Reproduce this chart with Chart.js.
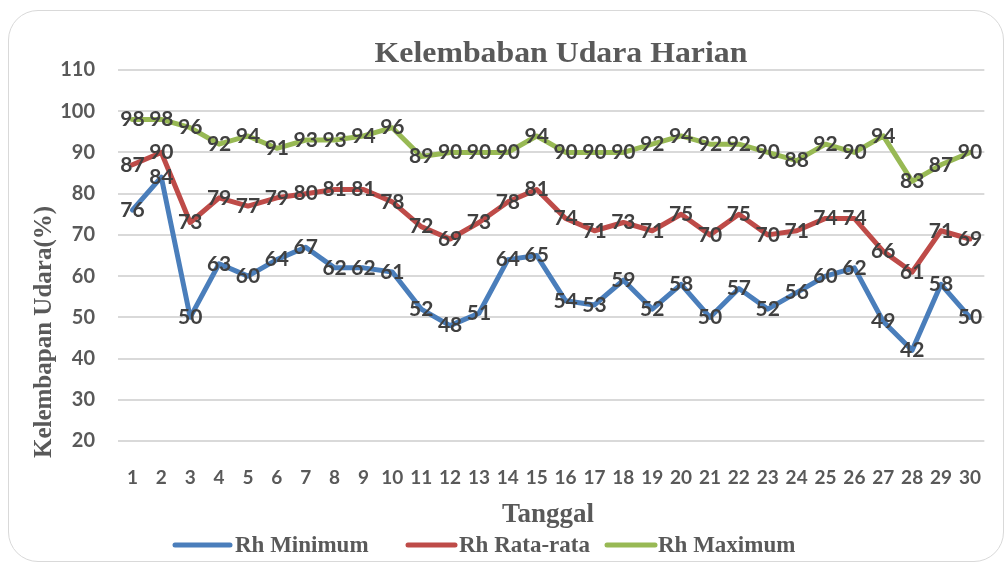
<!DOCTYPE html>
<html>
<head>
<meta charset="utf-8">
<script src="https://cdn.jsdelivr.net/npm/chart.js@4"></script>
<style>
  html, body { margin: 0; padding: 0; background: #fff; }
  #wrap { position: relative; width: 1006px; height: 566px; }
  #frame { position: absolute; left: 8px; top: 10px; width: 996px; height: 552px;
           border: 1.5px solid #d9d9d9; border-radius: 30px; box-sizing: border-box; }
  #chart { position: absolute; left: 0; top: 0; }
</style>
</head>
<body>
<div id="wrap">
  <div id="frame"></div>
  <canvas id="chart" width="1006" height="566"></canvas>
</div>
<script>
let days = [];
for (let d = 1; d <= 30; d++) days.push(String(d));

let rhMin = [76, 84, 50, 63, 60, 64, 67, 62, 62, 61, 52, 48, 51, 64, 65, 54, 53, 59, 52, 58, 50, 57, 52, 56, 60, 62, 49, 42, 58, 50];
let rhAvg = [87, 90, 73, 79, 77, 79, 80, 81, 81, 78, 72, 69, 73, 78, 81, 74, 71, 73, 71, 75, 70, 75, 70, 71, 74, 74, 66, 61, 71, 69];
let rhMax = [98, 98, 96, 92, 94, 91, 93, 93, 94, 96, 89, 90, 90, 90, 94, 90, 90, 90, 92, 94, 92, 92, 90, 88, 92, 90, 94, 83, 87, 90];

let seriesNames = ['Rh Minimum', 'Rh Rata-rata', 'Rh Maximum'];
let seriesColors = ['#4a7ebb', '#be4b48', '#98b954'];

const textGrey = '#595959';
const serif = '"Liberation Serif", "Times New Roman", serif';
const sans = 'Lato, "Open Sans", sans-serif';

// value labels on each point, titles and legend
const decorPlugin = {
    id: 'decor',
    afterDatasetsDraw(chart) {
        let ctx = chart.ctx;
        ctx.save();
        ctx.font = 'bold 21px ' + sans;
        ctx.fillStyle = '#404040';
        ctx.textAlign = 'center';
        ctx.textBaseline = 'middle';
        chart.data.datasets.forEach((ds, i) => {
            let meta = chart.getDatasetMeta(i);
            meta.data.forEach((pt, j) => {
                ctx.fillText(String(ds.data[j]), pt.x, pt.y);
            });
        });
        ctx.restore();
    },
    afterDraw(chart) {
        let ctx = chart.ctx;
        ctx.save();
        ctx.fillStyle = textGrey;
        ctx.textAlign = 'center';
        ctx.textBaseline = 'middle';

        ctx.save();
        ctx.translate(561, 54);
        ctx.scale(1.06, 1);
        ctx.font = 'bold 30px ' + serif;
        ctx.fillText('Kelembaban Udara Harian', 0, 0);
        ctx.restore();

        ctx.font = 'bold 27px ' + serif;
        ctx.fillText('Tanggal', 548, 515);

        ctx.save();
        ctx.translate(45, 332);
        ctx.rotate(-Math.PI / 2);
        ctx.font = 'bold 25px ' + serif;
        ctx.fillText('Kelembapan Udara(%)', 0, 0);
        ctx.restore();

        // legend
        let lineSpans = [[175, 230], [408, 455], [607, 655]];
        let textStarts = [235, 459, 658];
        ctx.font = 'bold 23px ' + serif;
        ctx.textAlign = 'left';
        ctx.lineCap = 'round';
        chart.data.datasets.forEach((ds, i) => {
            ctx.strokeStyle = ds.borderColor;
            ctx.lineWidth = 5;
            ctx.beginPath();
            ctx.moveTo(lineSpans[i][0], 545);
            ctx.lineTo(lineSpans[i][1], 545);
            ctx.stroke();
            ctx.fillStyle = textGrey;
            ctx.fillText(ds.label, textStarts[i], 546);
        });
        ctx.restore();
    }
};

let datasets = [rhMin, rhAvg, rhMax].map((vals, i) => ({
    label: seriesNames[i],
    data: vals,
    borderColor: seriesColors[i],
    backgroundColor: seriesColors[i],
    borderWidth: 5,
    pointRadius: 0,
    tension: 0,
    borderJoinStyle: 'round',
    borderCapStyle: 'round'
}));

let ctx = document.getElementById('chart').getContext('2d');
window.rhChart = new Chart(ctx, {
    type: 'line',
    data: { labels: days, datasets: datasets },
    options: {
        responsive: false,
        animation: false,
        layout: { padding: { top: 70, right: 5, left: 0, bottom: 0 } },
        plugins: {
            legend: { display: false },
            title: { display: false },
            tooltip: { enabled: false }
        },
        scales: {
            x: {
                offset: true,
                grid: { display: false, drawTicks: false },
                border: { display: false },
                ticks: {
                    color: textGrey,
                    font: { family: sans, weight: 'bold', size: 19 },
                    padding: 25,
                    maxRotation: 0,
                    autoSkip: false
                },
                afterFit(scale) { scale.height = 125; }
            },
            y: {
                min: 20,
                max: 110,
                grid: { color: '#d9d9d9', lineWidth: 2, drawTicks: false },
                border: { display: false },
                ticks: {
                    stepSize: 10,
                    color: textGrey,
                    font: { family: sans, weight: 'bold', size: 20 },
                    padding: 23
                },
                afterFit(scale) { scale.width = 118; }
            }
        }
    },
    plugins: [decorPlugin]
});
</script>
</body>
</html>
